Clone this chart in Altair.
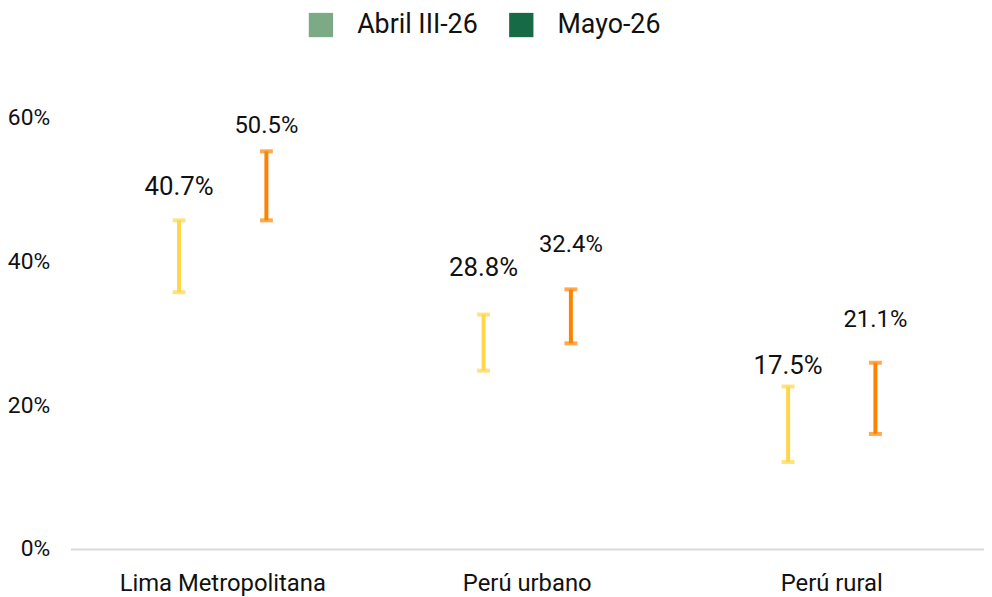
import altair as alt
import pandas as pd

categories = ["Lima Metropolitana", "Perú urbano", "Perú rural"]
series = ["Abril III-26", "Mayo-26"]

abril_val = [40.7, 28.8, 17.5]
abril_low = [35.7, 24.8, 12.1]
abril_high = [45.7, 32.6, 22.6]
abril_label_pos = [50.3, 39.0, 25.4]

mayo_val = [50.5, 32.4, 21.1]
mayo_low = [45.7, 28.6, 16.0]
mayo_high = [55.3, 36.1, 25.9]
mayo_label_pos = [58.8, 42.2, 31.9]

bar_colors = ["#FFD54A", "#FF8300"]
legend_colors = ["#7BAA84", "#166B45"]
label_sizes = [26, 24]
FONT = "Roboto"

rows = []
for s, vals, lows, highs, lps in [
    (series[0], abril_val, abril_low, abril_high, abril_label_pos),
    (series[1], mayo_val, mayo_low, mayo_high, mayo_label_pos),
]:
    for c, v, lo, hi, lp in zip(categories, vals, lows, highs, lps):
        rows.append({"cat": c, "series": s, "val": v / 100, "low": lo / 100,
                     "high": hi / 100, "lab": lp / 100})
df = pd.DataFrame(rows)

x_enc = alt.X("cat:N", sort=categories, title=None,
              scale=alt.Scale(paddingInner=0, paddingOuter=0),
              axis=alt.Axis(labelAngle=0, labelFontSize=24, labelFont=FONT,
                            labelColor="#111111", ticks=False, domainColor="#D9D9D9",
                            domainWidth=2, labelPadding=23, grid=False,
                            labelLimit=400))
xoff = alt.XOffset("series:N", sort=series,
                   scale=alt.Scale(domain=series, paddingInner=0, paddingOuter=0.744))
y_scale = alt.Scale(domain=[0, 0.6], nice=False)
y_axis = alt.Axis(format=".0%", values=[0, 0.2, 0.4, 0.6], labelFontSize=23,
                  labelFont=FONT, labelColor="#111111", ticks=False, domain=False,
                  grid=False, labelPadding=21, title=None)

base = alt.Chart(df)
layers = []
for i, s in enumerate(series):
    sub = base.transform_filter(alt.datum.series == s)
    c = bar_colors[i]
    layers.append(sub.mark_rule(strokeWidth=4, color=c).encode(
        x=x_enc, xOffset=xoff,
        y=alt.Y("low:Q", scale=y_scale, axis=y_axis), y2="high:Q"))
    layers.append(sub.mark_tick(size=13, thickness=4, color=c).encode(
        x=x_enc, xOffset=xoff, y=alt.Y("low:Q", scale=y_scale)))
    layers.append(sub.mark_tick(size=13, thickness=4, color=c).encode(
        x=x_enc, xOffset=xoff, y=alt.Y("high:Q", scale=y_scale)))
    layers.append(sub.mark_text(font=FONT, baseline="middle", color="#111111",
                                fontSize=label_sizes[i]).encode(
        x=x_enc, xOffset=xoff, y=alt.Y("lab:Q", scale=y_scale),
        text=alt.Text("val:Q", format=".1%")))

legend_layer = base.mark_square(opacity=0).encode(
    x=x_enc, xOffset=xoff, y=alt.Y("val:Q", scale=y_scale),
    color=alt.Color("series:N", sort=series,
                    scale=alt.Scale(domain=series, range=legend_colors),
                    legend=alt.Legend(title=None, orient="none", direction="horizontal",
                                      legendX=239, legendY=-107, symbolType="square",
                                      symbolSize=600, symbolOpacity=1,
                                      symbolStrokeWidth=0, labelFontSize=27,
                                      labelFont=FONT, labelColor="#111111",
                                      labelOffset=23, columnPadding=30, padding=0,
                                      labelLimit=300)))
layers.append(legend_layer)

chart = alt.layer(*layers).properties(
    width=921, height=435, background="white",
    autosize=alt.AutoSizeParams(type="none"),
    padding={"left": 63, "top": 108, "right": 0, "bottom": 46},
).configure_view(strokeWidth=0)

chart.save("out.html", embed_options={"renderer": "svg", "actions": False})
